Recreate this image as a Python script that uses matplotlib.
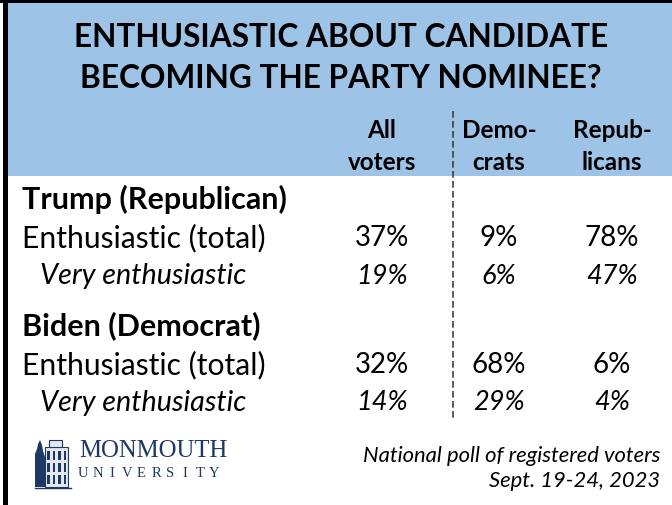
import matplotlib
matplotlib.use("Agg")
import matplotlib.pyplot as plt
from matplotlib.patches import Rectangle, Polygon

title_lines = ["ENTHUSIASTIC ABOUT CANDIDATE", "BECOMING THE PARTY NOMINEE?"]
col_headers = [("All", "voters"), ("Demo-", "crats"), ("Repub-", "licans")]
candidates = ["Trump (Republican)", "Biden (Democrat)"]
row_labels = ["Enthusiastic (total)", "Very enthusiastic"]
trump_total = [37, 9, 78]
trump_very = [19, 6, 47]
biden_total = [32, 68, 6]
biden_very = [14, 29, 4]
footer_lines = ["National poll of registered voters", "Sept. 19-24, 2023"]

FONT = "Lato"
BLUE = "#9DC3E6"
NAVY = "#1F3864"

fig = plt.figure(figsize=(6.72, 5.06), dpi=100)
ax = fig.add_axes([0, 0, 1, 1])
ax.set_xlim(0, 672)
ax.set_ylim(506, 0)
ax.axis("off")

# background header and borders
ax.add_patch(Rectangle((8, 4), 664, 173, facecolor=BLUE, edgecolor="none"))
ax.add_patch(Rectangle((0, 0), 672, 4, facecolor="black", edgecolor="none"))
ax.add_patch(Rectangle((3, 0), 5, 506, facecolor="black", edgecolor="none"))

# title
for i, line in enumerate(title_lines):
    ax.text(341, 37 + 41 * i, line, ha="center", va="center", fontsize=22.8,
            fontweight="bold", family=FONT, color="black")

col_x = [382, 499, 612]
for cx, (l1, l2) in zip(col_x, col_headers):
    ax.text(cx, 130, l1, ha="center", va="center", fontsize=17.5, fontweight="bold", family=FONT)
    ax.text(cx, 162, l2, ha="center", va="center", fontsize=17.5, fontweight="bold", family=FONT)

# dashed separator
ax.plot([453, 453], [112, 422], color="#404040", lw=1.2, ls=(0, (4, 2)))

blocks = [(candidates[0], trump_total, trump_very, 199),
          (candidates[1], biden_total, biden_very, 326)]
for name, tot, very, y0 in blocks:
    ax.text(22, y0, name, ha="left", va="center", fontsize=22, fontweight="bold", family=FONT)
    ax.text(22, y0 + 39, row_labels[0], ha="left", va="center", fontsize=21.6, family=FONT)
    ax.text(40, y0 + 77, row_labels[1], ha="left", va="center", fontsize=20.7, style="italic", family=FONT)
    for cx, v in zip(col_x, tot):
        ax.text(cx, y0 + 39, f"{v}%", ha="center", va="center", fontsize=20, family=FONT)
    for cx, v in zip(col_x, very):
        ax.text(cx, y0 + 77, f"{v}%", ha="center", va="center", fontsize=19.5, style="italic", family=FONT)

# footer
ax.text(660, 456, footer_lines[0], ha="right", va="center", fontsize=15.8, style="italic", family=FONT)
ax.text(660, 481, footer_lines[1], ha="right", va="center", fontsize=15.8, style="italic", family=FONT)

# logo: tree and building
ax.add_patch(Polygon([[35, 488], [35, 455], [37, 450], [38, 445], [40, 441], [42, 446],
                      [43, 452], [45, 458], [45, 488]], closed=True,
                     facecolor=NAVY, edgecolor="none"))
ax.add_patch(Rectangle((45, 448), 23, 40, facecolor="#E4E8F0", edgecolor=NAVY, lw=0.8))
ax.add_patch(Rectangle((49, 441), 13, 7, facecolor="#E4E8F0", edgecolor=NAVY, lw=0.8))
for wx in [47, 52.5, 58, 63.5]:
    for wy in [452, 464, 476]:
        ax.add_patch(Rectangle((wx, wy), 2.5, 9, facecolor=NAVY, edgecolor="none"))
ax.plot([35, 71], [488.5, 488.5], color=NAVY, lw=1)
ax.text(79, 451, "MONMOUTH", ha="left", va="center", fontsize=17.8, family="Liberation Serif", color=NAVY)
uni = "UNIVERSITY"
for i, ch in enumerate(uni):
    ax.text(83 + i * 14.6, 474, ch, ha="center", va="center", fontsize=10.5, family="Liberation Serif", color=NAVY)

fig.savefig("out.png", dpi=100)
